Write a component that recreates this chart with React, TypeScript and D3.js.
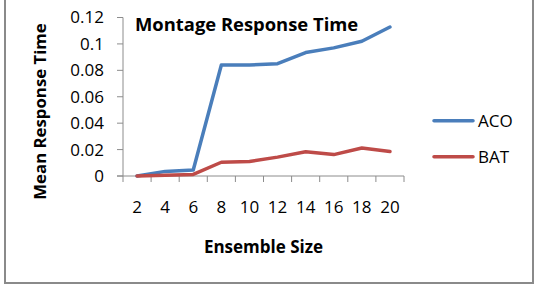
import React from "react";
import * as d3 from "d3";

const categories = [2, 4, 6, 8, 10, 12, 14, 16, 18, 20];
const acoValues = [0, 0.0035, 0.0045, 0.084, 0.084, 0.085, 0.0935, 0.097, 0.102, 0.1128];
const batValues = [0, 0.0005, 0.0012, 0.0104, 0.011, 0.0143, 0.0184, 0.0162, 0.0212, 0.0186];
const yTicks = [0, 0.02, 0.04, 0.06, 0.08, 0.1, 0.12];
const seriesNames = ["ACO", "BAT"];
const seriesColors = ["#4A7EBB", "#BE4B48"];

export default function App() {
  const W = 542, H = 288;
  const x0 = 123, x1 = 404, yTop = 17.5, yBot = 176;
  const x = d3.scaleBand<number>().domain(categories).range([x0, x1]);
  const y = d3.scaleLinear().domain([0, 0.12]).range([yBot, yTop]);
  const line = d3
    .line<number>()
    .x((_, i) => (x(categories[i]) as number) + x.bandwidth() / 2)
    .y((d) => y(d));
  const series = [acoValues, batValues];
  const font = "'Open Sans', sans-serif";
  const axisColor = "#8c8c8c";
  const boundaries = categories.map((c) => x(c) as number).concat([x1]);

  return (
    <svg width={W} height={H} style={{ position: "absolute", left: 0, top: 0 }}>
      <rect x={0} y={0} width={W} height={H} fill="#fff" />
      <rect x={5} y={-10} width={528} height={293} fill="none" stroke="#8a8a8a" strokeWidth={2} />
      {/* y axis */}
      <line x1={x0} x2={x0} y1={yTop} y2={yBot} stroke={axisColor} strokeWidth={1} />
      {yTicks.map((t) => (
        <g key={t}>
          <line x1={x0 - 6} x2={x0} y1={y(t)} y2={y(t)} stroke={axisColor} />
          <text x={104} y={y(t)} dy="0.35em" textAnchor="end" fontFamily={font} fontSize={17} fill="#000">
            {d3.format("~g")(t)}
          </text>
        </g>
      ))}
      {/* x axis */}
      <line x1={x0 - 6} x2={x1} y1={yBot} y2={yBot} stroke={axisColor} />
      {boundaries.map((b, i) => (
        <line key={i} x1={b} x2={b} y1={yBot} y2={yBot + 6} stroke={axisColor} />
      ))}
      {categories.map((c) => (
        <text key={c} x={(x(c) as number) + x.bandwidth() / 2} y={213} textAnchor="middle" fontFamily={font} fontSize={17} fill="#000">
          {c}
        </text>
      ))}
      {series.map((s, i) => (
        <path key={i} d={line(s) || ""} fill="none" stroke={seriesColors[i]} strokeWidth={3.5} strokeLinejoin="round" strokeLinecap="round" />
      ))}
      <text x={135} y={31} fontFamily={font} fontWeight="bold" fontSize={18.4} fill="#000">
        Montage Response Time
      </text>
      <text x={263.5} y={253} textAnchor="middle" fontFamily={font} fontWeight="bold" fontSize={17} fill="#000">
        Ensemble Size
      </text>
      <text transform="translate(46,111.5) rotate(-90)" textAnchor="middle" fontFamily={font} fontWeight="bold" fontSize={16.8} fill="#000">
        Mean Response Time
      </text>
      {seriesNames.map((n, i) => (
        <g key={n}>
          <line x1={434} x2={473} y1={120.7 + i * 36} y2={120.7 + i * 36} stroke={seriesColors[i]} strokeWidth={3.5} strokeLinecap="round" />
          <text x={478} y={120.7 + i * 36} dy="0.35em" fontFamily={font} fontSize={17} fill="#000">
            {n}
          </text>
        </g>
      ))}
    </svg>
  );
}
